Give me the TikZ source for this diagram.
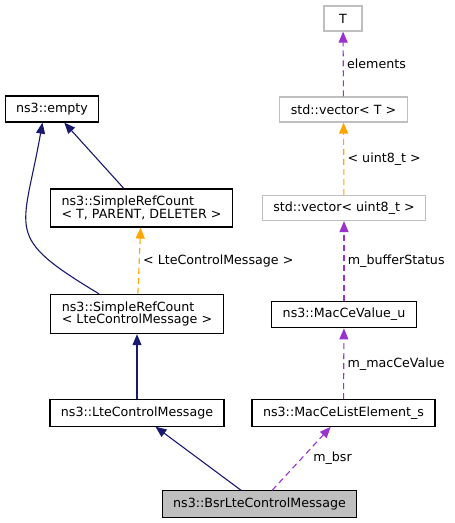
\documentclass[tikz,border=0pt]{standalone}
\usepackage{fontspec}
\setmainfont{DejaVu Sans}
\usetikzlibrary{arrows.meta}
\definecolor{navyline}{HTML}{191970}
\definecolor{orangeline}{HTML}{FFA500}
\definecolor{purpleline}{HTML}{9A32CD}
\definecolor{grayline}{HTML}{BFBFBF}

\begin{document}
\begin{tikzpicture}[x=1bp,y=1bp,font=\fontsize{12.7}{13}\selectfont,
    >={Triangle[width=9bp,length=11bp]}]
\useasboundingbox (0,0) rectangle (455,-523);

\begin{scope}[every node/.style={draw,line width=1.2bp,inner xsep=11bp,inner ysep=7bp,minimum height=26bp,align=left}]
    \node (emp) at (52,-109) {ns3::empty};
    \node (srct) at (141.5,-208) {ns3::SimpleRefCount\\< T, PARENT, DELETER >};
    \node (src) at (137,-314) {ns3::SimpleRefCount\\< LteControlMessage >};
    \node (lcm) at (137,-413) {ns3::LteControlMessage};

    \node (mv) at (344,-314.5) {ns3::MacCeValue\_u};
    \node (ml) at (343.5,-413) {ns3::MacCeListElement\_s};

    \node[fill=grayline] (bsr) at (259.5,-504) {ns3::BsrLteControlMessage};
\end{scope}

\begin{scope}[every node/.style={draw=grayline,line width=1.2bp,inner xsep=11bp,minimum height=25bp}]
    \node[minimum width=38bp] (t) at (343,-18.5) {T};
    \node (vt) at (343.5,-109.5) {std::vector< T >};
    \node (vu) at (344,-208) {std::vector< uint8\_t >};
\end{scope}

\begin{scope}[style={line width=1.1bp,color=navyline}]
    \path [->] (srct) edge node {} (emp);
    \path [->] (src.152) edge[out=149,in=-100,looseness=1.6] node {} (emp.-125);
    \path [->] (lcm) edge node {} (src);
    \path [->] (bsr) edge node {} (lcm);
\end{scope}

\begin{scope}[style={line width=1.1bp,dash pattern=on 6bp off 4bp}]
    \path [->,color=orangeline] (src) edge node[right,text=black] {< LteControlMessage >} (srct);
    \path [->,color=orangeline] (vu) edge node[right,text=black] {< uint8\_t >} (vt);

    \path [->,color=purpleline] (vt) edge node[right,text=black] {elements} (t);
    \path [->,color=purpleline] (mv) edge node[right,text=black] {m\_bufferStatus} (vu);
    \path [->,color=purpleline] (ml) edge node[right,text=black] {m\_macCeValue} (mv);
    \path [->,color=purpleline] (bsr) edge node[right=8bp,text=black] {m\_bsr} (ml);
\end{scope}

\end{tikzpicture}
\end{document}
